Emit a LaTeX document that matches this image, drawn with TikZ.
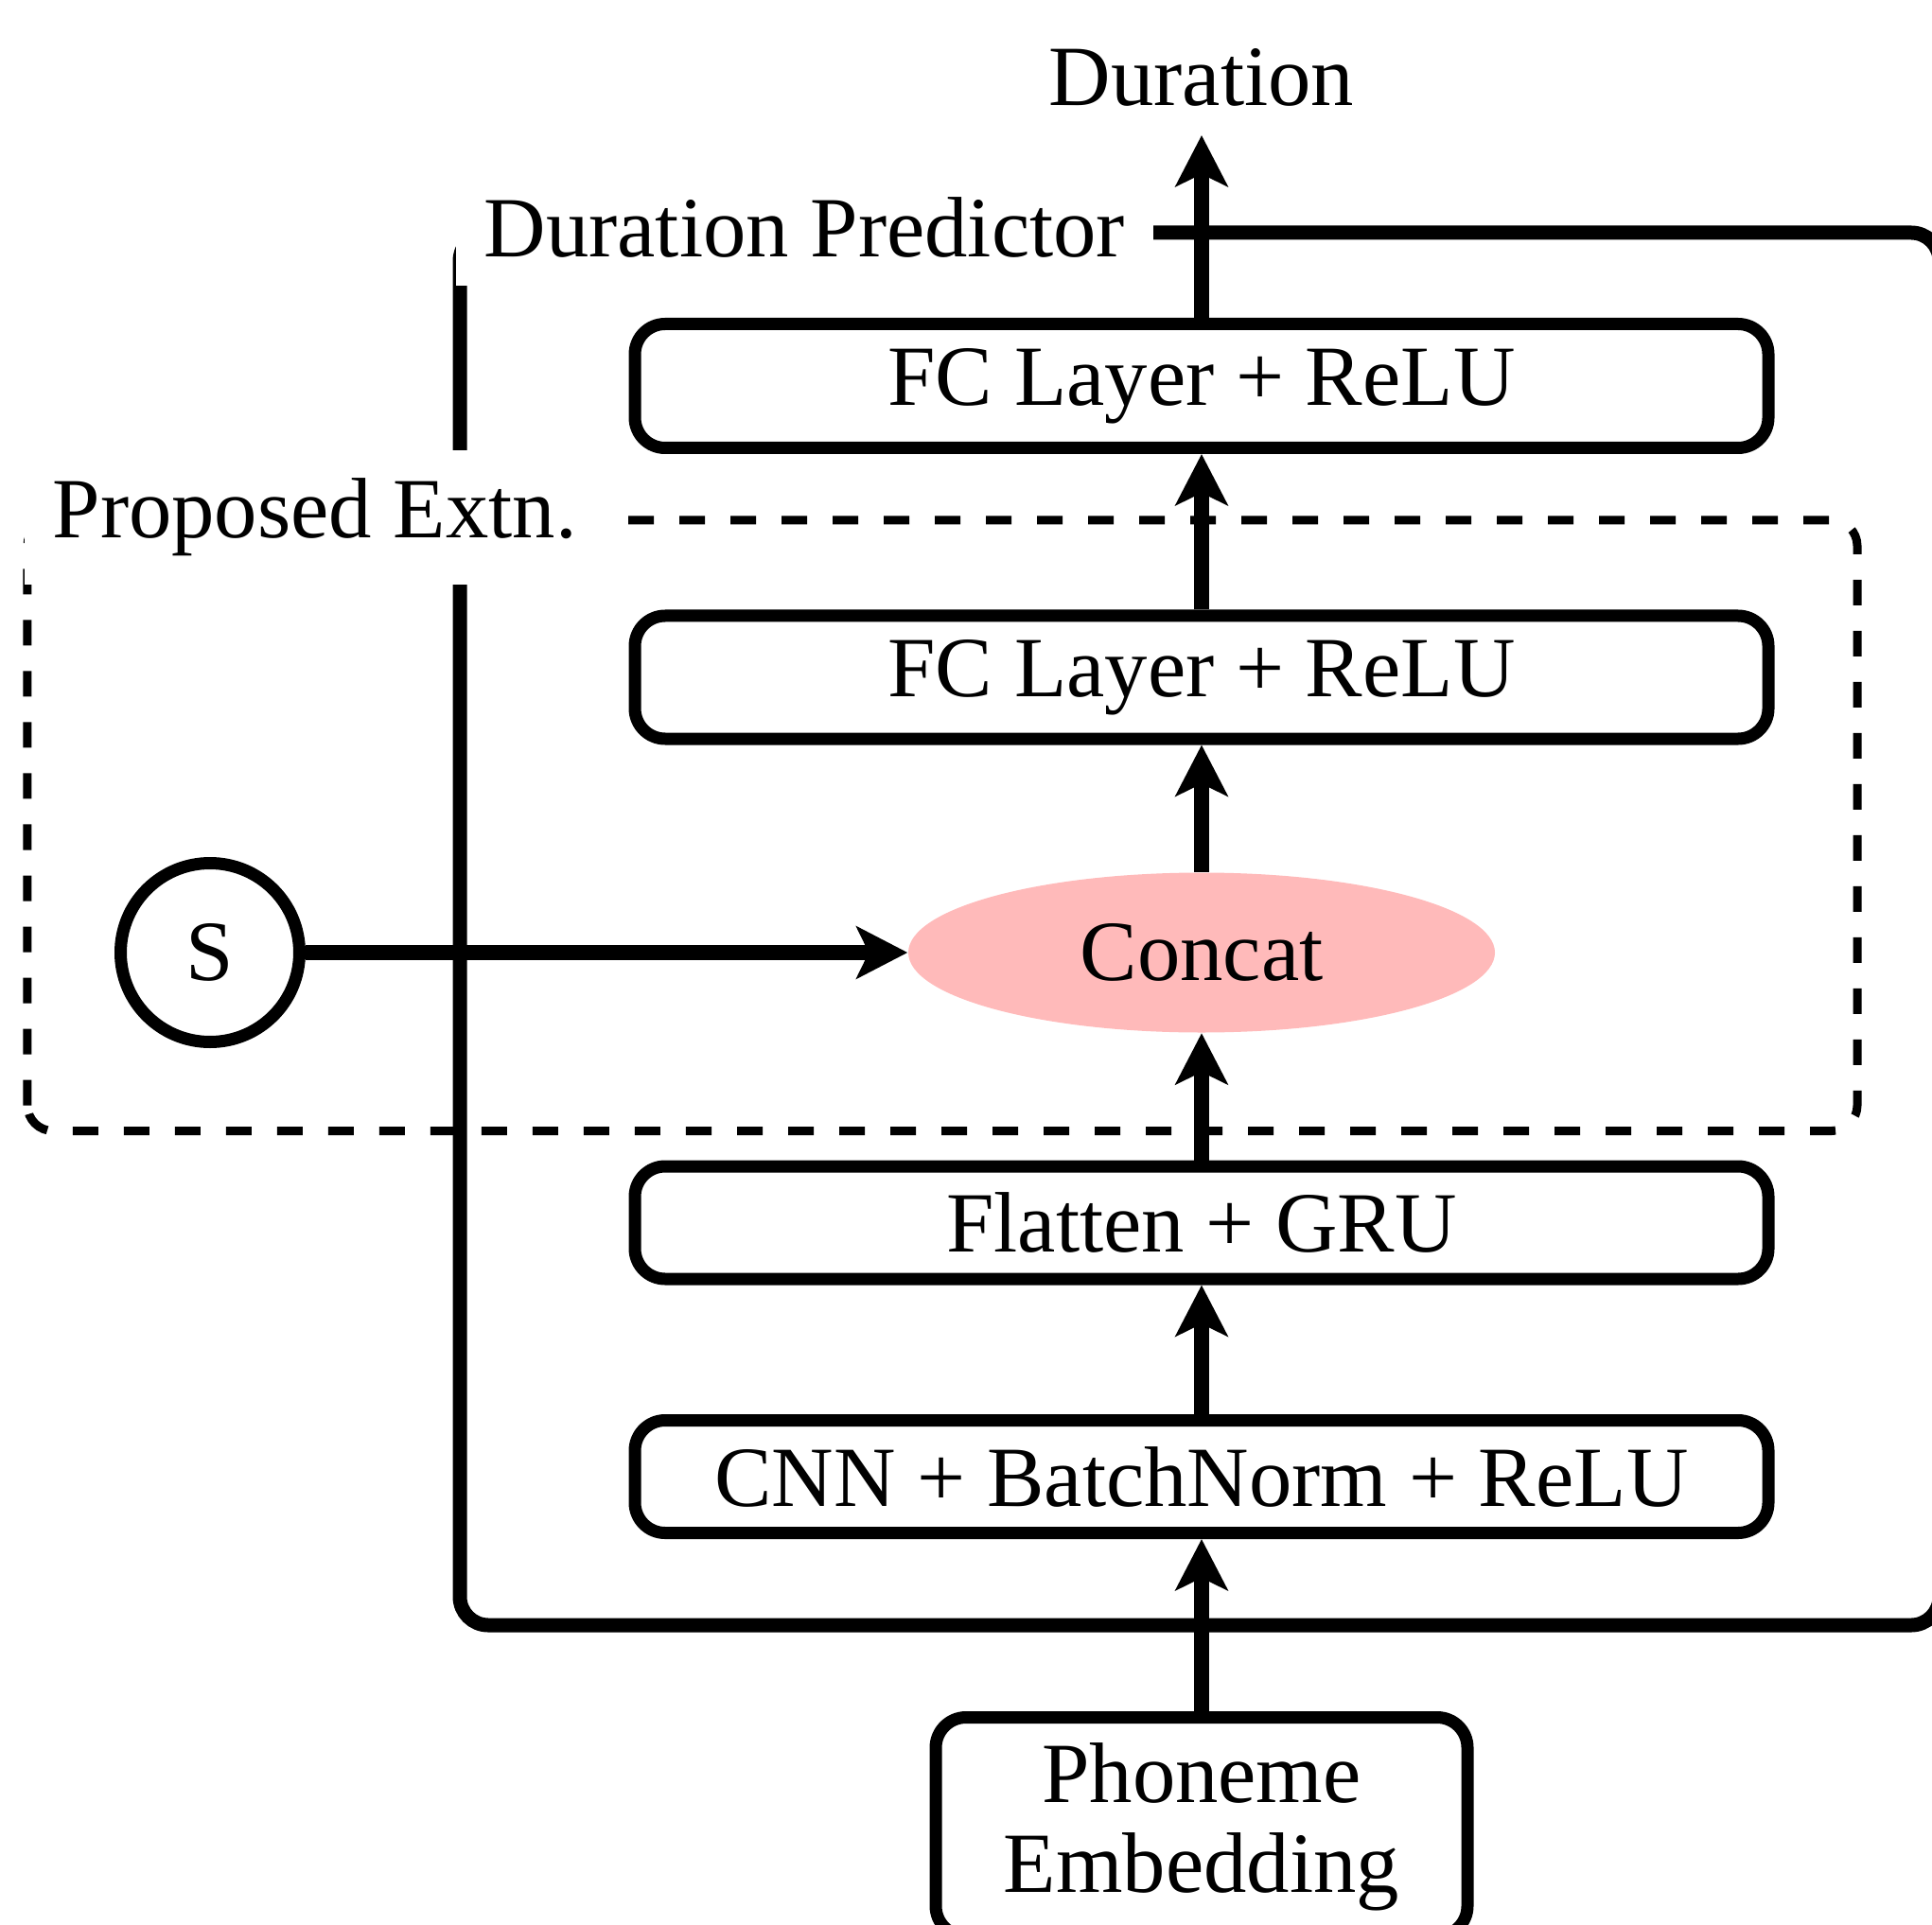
\documentclass[tikz,border=0pt]{standalone}
\usepackage{fontspec}
\setmainfont{Liberation Serif}
\usetikzlibrary{positioning, arrows.meta, shapes.geometric}

\begin{document}
\begin{tikzpicture}[
  font=\fontsize{25.8}{27}\selectfont,
  >={Stealth[length=0.54cm, width=0.55cm, inset=0.13cm]},
  stagebox/.style={draw, line width=0.13cm, rounded corners=0.32cm,
    minimum width=11.98cm, minimum height=1.19cm, inner sep=0pt},
  flow/.style={->, line width=0.16cm},
  tag/.style={fill=white, anchor=west, inner sep=0.3cm}
]

\useasboundingbox (0, 0) rectangle (20.42, 20.34);

% --- Duration predictor frame ---
\draw[line width=0.15cm, rounded corners=0.3cm] (4.86, 3.16) rectangle (20.50, 17.88);

% --- Proposed extension (dashed) ---
\draw[line width=0.09cm, dash pattern=on 0.27cm off 0.27cm, rounded corners=0.27cm]
  (0.29, 8.385) rectangle (19.63, 14.84);

% --- Frame titles (white fill cuts the frame lines) ---
\node[tag] (dplabel) at (4.81, 17.94) {Duration Predictor};
\node[tag] (extlabel) at (0.25, 14.87) {Proposed Extn.};

% --- Layers ---
\node[stagebox] (cnn) at (12.70, 4.73) {CNN + BatchNorm + ReLU};
\node[stagebox] (gru) at (12.70, 7.415) {Flatten + GRU};
\node[stagebox, minimum height=1.30cm] (fca) at (12.70, 13.18) {FC Layer + ReLU};
\node[stagebox, minimum height=1.31cm] (fcb) at (12.70, 16.26) {FC Layer + ReLU};

\node[ellipse, fill=red!27, minimum width=6.2cm, minimum height=1.69cm, inner sep=0pt]
  (concat) at (12.70, 10.27) {Concat};
\node[circle, draw, line width=0.13cm, minimum size=1.89cm, inner sep=0pt]
  (spk) at (2.22, 10.27) {S};

\node[draw, line width=0.13cm, rounded corners=0.32cm, minimum width=5.62cm,
  align=center, anchor=north, inner sep=0.27cm] (phon) at (12.70, 2.25)
  {Phoneme\\Embedding};

\node[anchor=south, inner sep=0.3cm] (dur) at (12.70, 18.91) {Duration};

% --- Connections ---
\draw[flow] (phon) -- (cnn);
\draw[flow] (cnn) -- (gru);
\draw[flow] (gru) -- (concat);
\draw[flow] (spk) -- (concat);
\draw[flow] (concat) -- (fca);
\draw[flow] (fca) -- (fcb);
\draw[flow] (fcb) -- (dur);

\end{tikzpicture}
\end{document}
